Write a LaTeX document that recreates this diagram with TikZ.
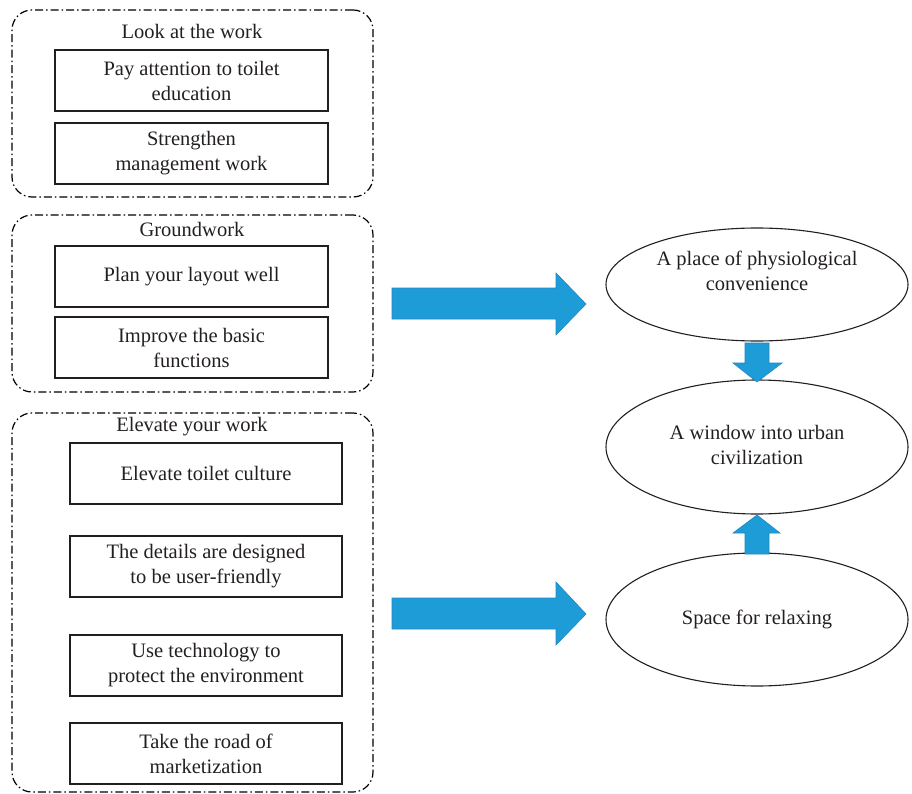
\documentclass[tikz,border=0pt]{standalone}
\usepackage{fontspec}
\setmainfont{Liberation Serif}
\usetikzlibrary{shapes.geometric}
\definecolor{arrowblue}{HTML}{1E9CD7}
\definecolor{arrowedge}{HTML}{2288BE}
\definecolor{ink}{HTML}{231F20}
\begin{document}
\begin{tikzpicture}[x=1pt,y=-1pt,
  every node/.style={text=ink, font=\fontsize{20.5}{25}\selectfont},
  group/.style={draw=black, rounded corners=20pt, line width=1.2pt,
    dash pattern=on 8pt off 3pt on 1.5pt off 3pt, inner sep=0pt},
  item/.style={draw=ink, line width=1.1pt, minimum height=61pt, align=center, inner sep=0pt},
  itemA/.style={item, minimum width=273pt},
  itemB/.style={item, minimum width=272pt},
  ell/.style={draw=ink, ellipse, line width=1.1pt, inner sep=0pt},
  label/.style={align=center, inner sep=0pt},
  blockarrow/.style={fill=arrowblue, draw=arrowedge, line width=0.6pt, line join=miter}
]
\useasboundingbox (0,0) rectangle (912,794);

% group frames
\node[group, minimum width=361pt, minimum height=187pt] (g1) at (192.5,103.5) {};
\node[group, minimum width=361pt, minimum height=177pt] (g2) at (192.5,303.5) {};
\node[group, minimum width=361pt, minimum height=379pt] (g3) at (192.5,602.5) {};

% group titles
\node (t1) at (192,31) {Look at the work};
\node (t2) at (192,229) {Groundwork};
\node (t3) at (192,427) {Elevate your work};

% items
\node[itemA] (a1) at (191.5,80.5) {Pay attention to toilet\\education};
\node[itemA] (a2) at (191.5,153.5) {Strengthen\\management work};
\node[itemA] (b1) at (191.5,276.5) {Plan your layout well};
\node[itemA] (b2) at (191.5,347.5) {Improve the basic\\functions};
\node[itemB] (c1) at (206,473.5) {Elevate toilet culture};
\node[itemB] (c2) at (206,566.5) {The details are designed\\to be user-friendly};
\node[itemB] (c3) at (206,665.5) {Use technology to\\protect the environment};
\node[itemB] (c4) at (206,753.5) {Take the road of\\marketization};

% outcome ellipses
\node[ell, minimum width=302pt, minimum height=113pt] (e1) at (757,284.5) {};
\node[label] (l1) at (757,271) {A place of physiological\\convenience};
\node[ell, minimum width=302pt, minimum height=134pt] (e2) at (757,447) {};
\node[label] (l2) at (757,445) {A window into urban\\civilization};
\node[ell, minimum width=302pt, minimum height=133pt] (e3) at (757,619.5) {};
\node[label] (l3) at (757,619) {Space for relaxing};

% block arrows
\draw[blockarrow] (392,288) -- (556,288) -- (556,273) -- (586,304) -- (556,335) -- (556,319) -- (392,319) -- cycle;
\draw[blockarrow] (392,598) -- (556,598) -- (556,582) -- (586,614) -- (556,645) -- (556,629) -- (392,629) -- cycle;
\draw[blockarrow] (745,343) -- (769,343) -- (769,363) -- (782,363) -- (757,382) -- (733,363) -- (745,363) -- cycle;
\draw[blockarrow] (745,554) -- (769,554) -- (769,533) -- (780,533) -- (757,515) -- (733,533) -- (745,533) -- cycle;
\end{tikzpicture}
\end{document}
